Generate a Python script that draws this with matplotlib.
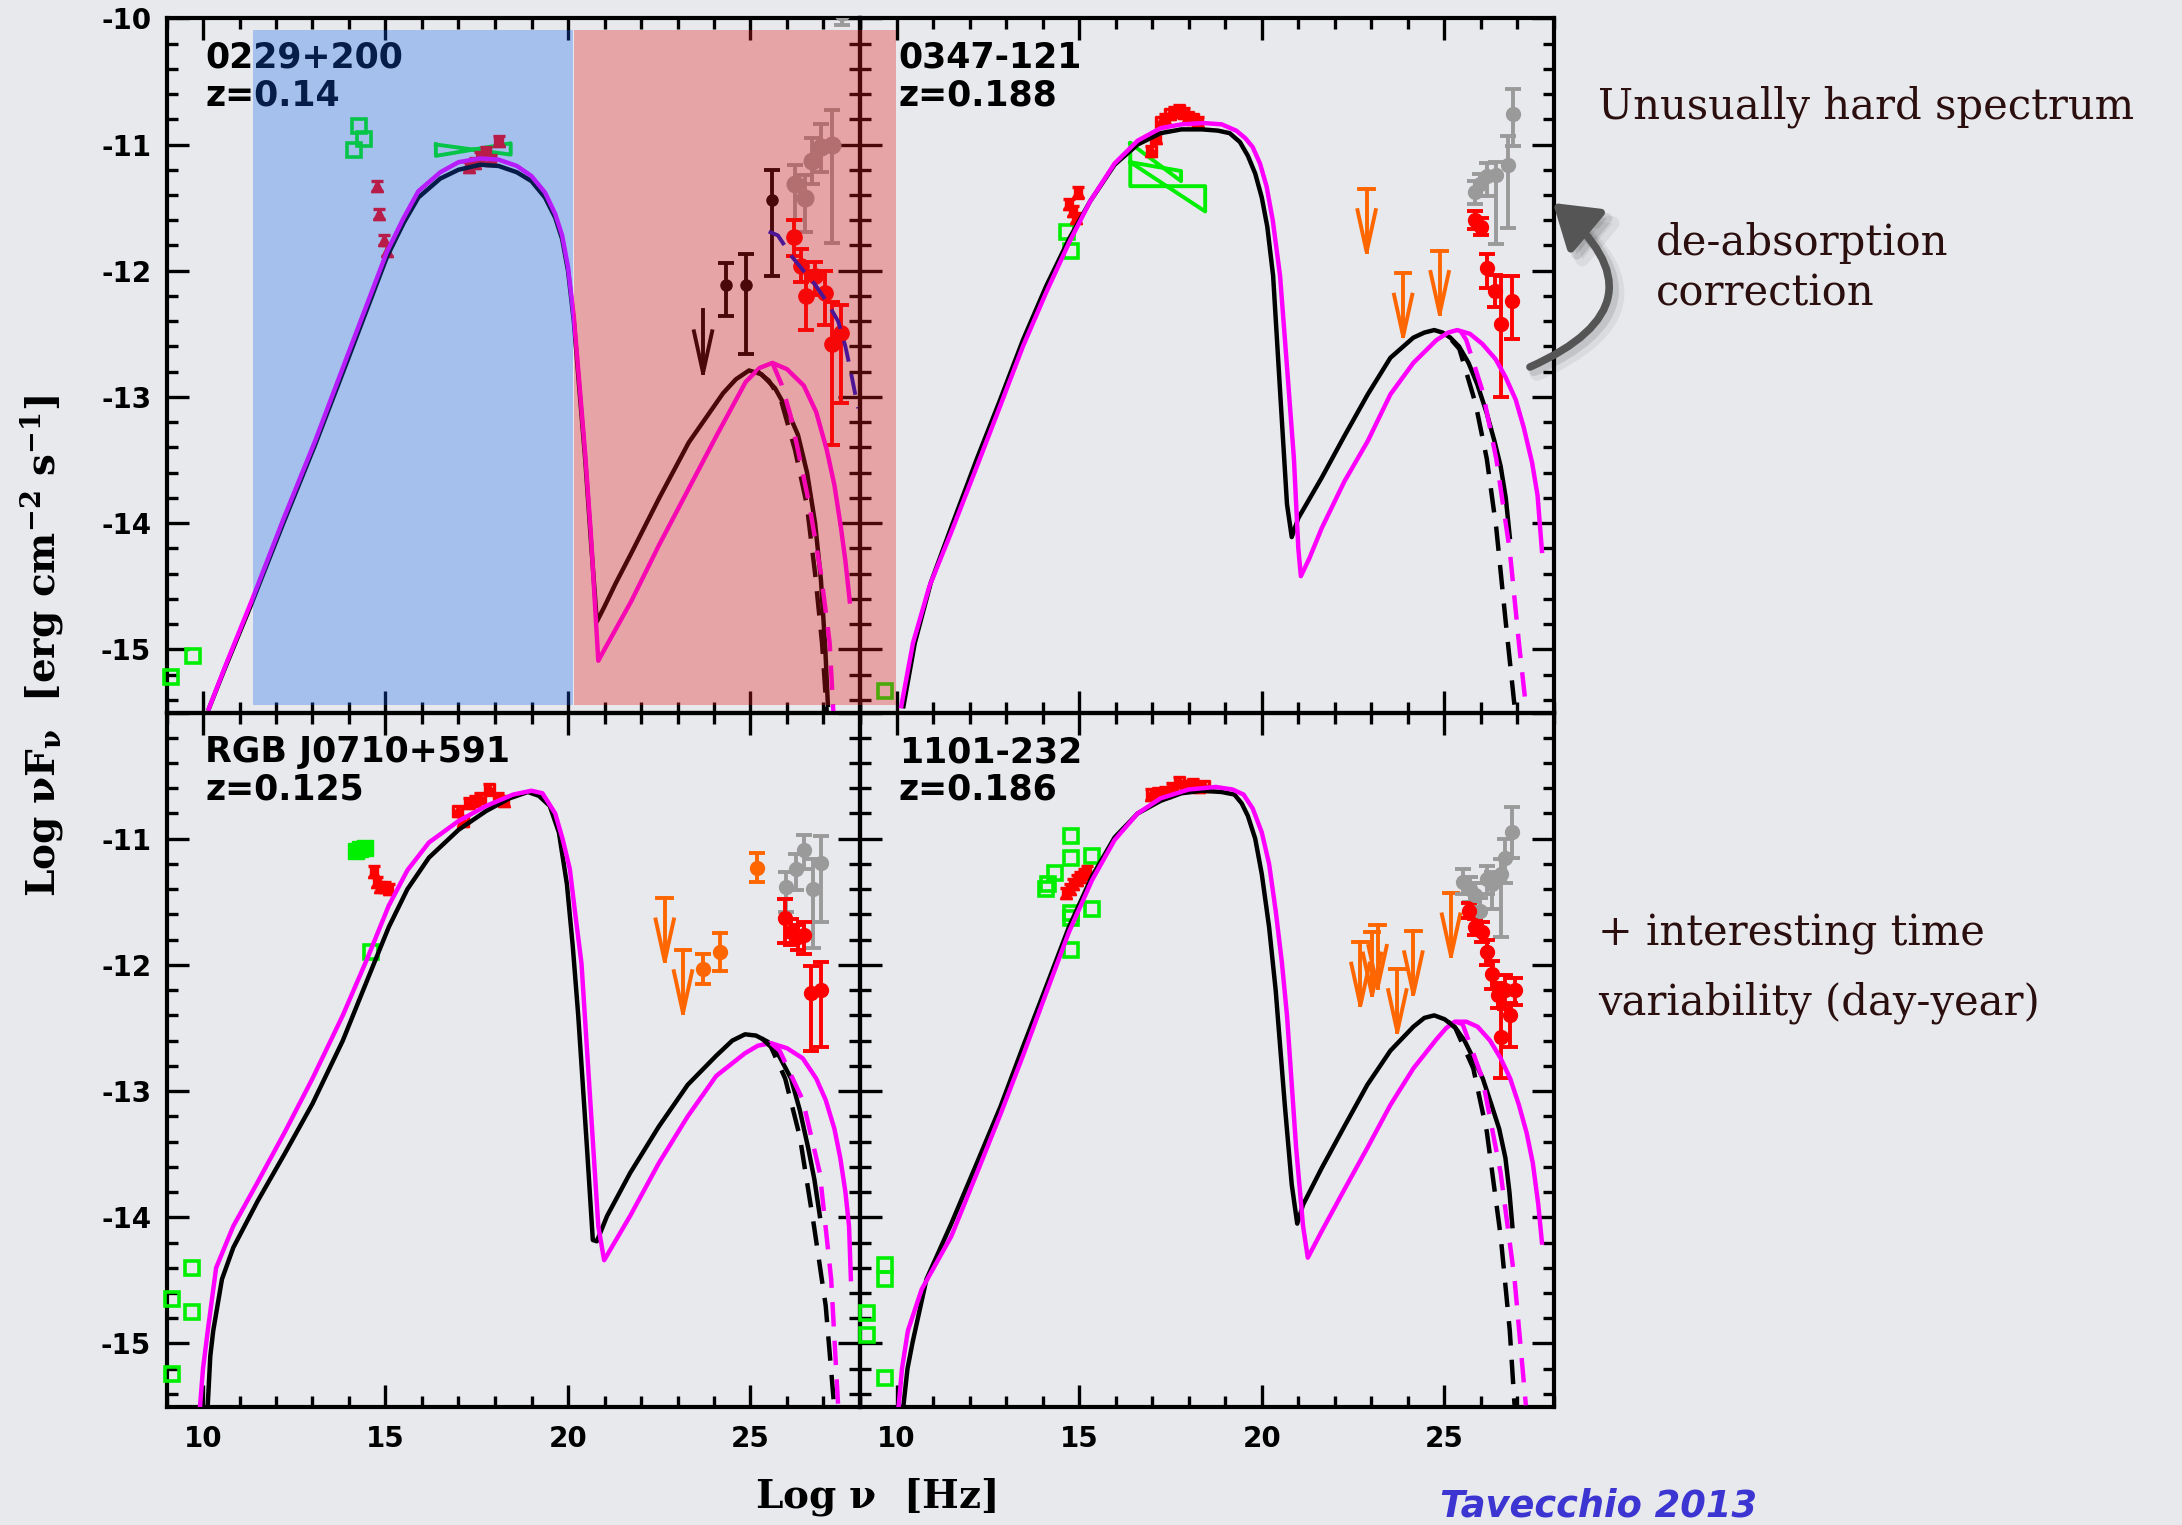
import matplotlib
matplotlib.use('Agg')
import matplotlib.pyplot as plt
from matplotlib.patches import Rectangle, FancyArrowPatch, ArrowStyle
from matplotlib.ticker import MultipleLocator

plt.rcParams['axes.unicode_minus'] = False
plt.rcParams['mathtext.fontset'] = 'dejavuserif'
plt.rcParams['mathtext.default'] = 'bf'

BG = '#e7e9ed'
GREEN = '#00ee00'
RED = '#ff0000'
ORANGE = '#ff6600'
GRAY = '#9a9a9a'
MAGENTA = '#ff00ff'

# ---------------- 0229+200 ----------------
p1_ssc_x = [10.16, 10.6, 11.34, 12.2, 13.07, 14.0, 15.04, 15.5, 15.9, 16.5, 17.0, 17.6, 18.1, 18.6, 19.0,
            19.37, 19.65, 19.84, 20.0, 20.16, 20.3, 20.47, 20.63, 20.79, 21.0, 21.3, 21.73, 22.5, 23.31,
            24.25, 24.6, 24.96, 25.3, 25.67, 26.0, 26.3, 26.55, 26.77, 26.93, 27.05, 27.12]
p1_ssc_y = [-15.47, -15.15, -14.63, -14.0, -13.38, -12.68, -11.89, -11.62, -11.42, -11.27, -11.2, -11.16,
            -11.17, -11.22, -11.29, -11.42, -11.58, -11.75, -12.0, -12.4, -12.9, -13.49, -14.15, -14.78,
            -14.66, -14.48, -14.24, -13.8, -13.36, -12.97, -12.86, -12.79, -12.82, -12.93, -13.1, -13.3,
            -13.6, -14.0, -14.45, -15.0, -15.44]
p1_mod_x = [10.16, 10.6, 11.34, 12.2, 13.07, 14.0, 15.04, 15.5, 15.9, 16.5, 17.0, 17.6, 18.1, 18.6, 19.0,
            19.37, 19.65, 19.84, 20.0, 20.16, 20.3, 20.47, 20.63, 20.75, 20.83, 21.0, 21.73, 22.5, 23.3,
            24.1, 24.87, 25.25, 25.6, 26.0, 26.46, 26.8, 27.09, 27.3, 27.48, 27.6, 27.72]
p1_mod_y = [-15.47, -15.14, -14.61, -13.97, -13.35, -12.64, -11.85, -11.58, -11.37, -11.22, -11.14, -11.11,
            -11.12, -11.17, -11.25, -11.38, -11.55, -11.72, -11.97, -12.37, -12.85, -13.45, -14.1, -14.7,
            -15.09, -15.0, -14.62, -14.17, -13.73, -13.29, -12.88, -12.77, -12.73, -12.78, -12.91, -13.12,
            -13.42, -13.7, -14.04, -14.3, -14.62]
p1_ssc_abs_x = [25.2, 25.5, 25.83, 26.22, 26.54, 26.77, 26.96, 27.09]
p1_ssc_abs_y = [-12.8, -12.87, -13.02, -13.42, -13.85, -14.4, -14.95, -15.5]
p1_mod_abs_x = [25.6, 25.85, 26.1, 26.3, 26.61, 26.93, 27.17, 27.27]
p1_mod_abs_y = [-12.73, -12.9, -13.15, -13.42, -13.85, -14.4, -14.95, -15.5]
p1_fit_x = [25.5, 25.75, 26.14, 26.45, 26.77, 27.1, 27.4, 27.6, 27.72, 27.85, 27.95]
p1_fit_y = [-11.69, -11.72, -11.89, -12.0, -12.11, -12.25, -12.4, -12.6, -12.76, -12.95, -13.09]
p1_sq_x = [9.13, 9.72, 14.28, 14.4, 14.14]
p1_sq_y = [-15.22, -15.05, -10.85, -10.96, -11.04]
p1_bow = [(16.38, -11.0, -11.09, 18.43, -11.08, -10.99)]
p1_opt_x = [14.76, 14.83, 14.96, 15.04]
p1_opt_y = [-11.33, -11.55, -11.76, -11.84]
p1_xr_x = [17.3, 17.45, 17.6, 17.75, 17.9, 18.1]
p1_xr_y = [-11.18, -11.15, -11.1, -11.06, -11.12, -10.97]
p1_lat_x = [24.33, 24.88, 25.59]
p1_lat_y = [-12.11, -12.11, -11.44]
p1_lat_lo = [0.25, 0.55, 0.6]
p1_lat_hi = [0.17, 0.24, 0.24]
p1_ul_x = [23.7]
p1_ul_y = [-12.31]
p1_obs_x = [26.22, 26.5, 26.69, 26.93, 27.24, 27.5]
p1_obs_y = [-11.31, -11.42, -11.13, -11.02, -11.0, -9.95]
p1_obs_lo = [0.29, 0.27, 0.18, 0.2, 0.78, 0.1]
p1_obs_hi = [0.15, 0.18, 0.18, 0.18, 0.27, 0.1]
p1_deab_x = [26.19, 26.38, 26.53, 26.77, 27.04, 27.24, 27.48]
p1_deab_y = [-11.73, -11.96, -12.2, -12.04, -12.18, -12.58, -12.49]
p1_deab_lo = [0.15, 0.13, 0.27, 0.15, 0.25, 0.8, 0.56]
p1_deab_hi = [0.13, 0.13, 0.2, 0.11, 0.18, 0.33, 0.22]

# ---------------- 0347-121 ----------------
p2_ssc_x = [10.19, 10.5, 10.94, 11.5, 12.2, 12.8, 13.46, 14.1, 14.72, 15.3, 15.97, 16.6, 17.23, 17.8, 18.36,
            18.8, 19.12, 19.4, 19.62, 19.82, 20.0, 20.15, 20.31, 20.5, 20.69, 20.82, 21.0, 21.64, 22.26,
            22.9, 23.52, 24.15, 24.45, 24.72, 24.95, 25.16, 25.4, 25.66, 25.9, 26.16, 26.37, 26.54, 26.68,
            26.79]
p2_ssc_y = [-15.45, -14.95, -14.47, -14.03, -13.49, -13.05, -12.55, -12.12, -11.75, -11.45, -11.16, -11.0,
            -10.91, -10.88, -10.88, -10.89, -10.91, -10.98, -11.09, -11.23, -11.42, -11.65, -12.04, -12.95,
            -13.85, -14.11, -13.96, -13.64, -13.31, -12.98, -12.69, -12.53, -12.49, -12.47, -12.49, -12.53,
            -12.6, -12.73, -12.9, -13.13, -13.35, -13.55, -13.8, -14.11]
p2_mod_x = [10.13, 10.45, 10.9, 11.5, 12.2, 12.8, 13.46, 14.1, 14.72, 15.3, 15.97, 16.6, 17.23, 17.8, 18.4,
            18.9, 19.3, 19.55, 19.75, 19.95, 20.13, 20.3, 20.5, 20.69, 20.88, 21.0, 21.07, 21.3, 21.64,
            22.26, 22.9, 23.52, 24.15, 24.78, 25.1, 25.35, 25.7, 26.04, 26.4, 26.67, 26.95, 27.17, 27.4,
            27.55, 27.67]
p2_mod_y = [-15.45, -14.95, -14.5, -14.07, -13.55, -13.1, -12.6, -12.17, -11.78, -11.45, -11.15, -10.97,
            -10.87, -10.84, -10.83, -10.84, -10.89, -10.95, -11.02, -11.15, -11.33, -11.6, -12.04, -12.76,
            -13.49, -14.2, -14.42, -14.28, -14.04, -13.67, -13.35, -12.98, -12.73, -12.55, -12.49, -12.47,
            -12.5, -12.58, -12.7, -12.84, -13.02, -13.24, -13.52, -13.78, -14.22]
p2_ssc_abs_x = [25.2, 25.41, 25.85, 26.16, 26.42, 26.67, 26.92]
p2_ssc_abs_y = [-12.55, -12.62, -13.05, -13.49, -14.04, -14.76, -15.45]
p2_mod_abs_x = [25.45, 25.6, 26.04, 26.42, 26.79, 27.04, 27.23]
p2_mod_abs_y = [-12.48, -12.55, -12.95, -13.49, -14.22, -14.95, -15.45]
p2_sq_x = [14.68, 14.78, 9.69]
p2_sq_y = [-11.69, -11.84, -15.33]
p2_bow = [(16.40, -10.99, -11.14, 17.79, -11.29, -11.21),
          (16.40, -11.14, -11.33, 18.45, -11.53, -11.33)]
p2_opt_x = [14.72, 14.84, 14.9, 14.97]
p2_opt_y = [-11.47, -11.53, -11.58, -11.38]
p2_xr_x = [16.98, 17.1, 17.23, 17.35, 17.48, 17.6, 17.74, 17.87, 17.99, 18.12, 18.24]
p2_xr_y = [-11.05, -10.95, -10.82, -10.8, -10.76, -10.74, -10.73, -10.75, -10.78, -10.8, -10.82]
p2_ul_x = [22.87, 23.87, 24.87]
p2_ul_y = [-11.35, -12.02, -11.84]
p2_obs_x = [25.85, 25.97, 26.16, 26.42, 26.73, 26.89]
p2_obs_y = [-11.38, -11.31, -11.25, -11.24, -11.16, -10.76]
p2_obs_lo = [0.09, 0.1, 0.16, 0.55, 0.5, 0.25]
p2_obs_hi = [0.09, 0.08, 0.1, 0.1, 0.23, 0.2]
p2_deab_x = [25.85, 26.0, 26.16, 26.38, 26.54, 26.86]
p2_deab_y = [-11.6, -11.65, -11.98, -12.16, -12.42, -12.24]
p2_deab_lo = [0.07, 0.07, 0.16, 0.13, 0.58, 0.3]
p2_deab_hi = [0.07, 0.07, 0.11, 0.13, 0.38, 0.2]

# ---------------- RGB J0710+591 ----------------
p3_ssc_x = [10.13, 10.2, 10.28, 10.52, 10.83, 11.5, 12.25, 13.0, 13.83, 14.5, 15.09, 15.6, 16.19, 17.0,
            17.76, 18.4, 18.9, 19.2, 19.5, 19.75, 19.97, 20.13, 20.28, 20.52, 20.68, 20.79, 21.07, 21.7,
            22.49, 23.28, 24.06, 24.5, 24.85, 25.15, 25.48, 25.8, 26.11, 26.35, 26.58, 26.75, 26.9]
p3_ssc_y = [-15.49, -15.1, -14.9, -14.49, -14.24, -13.87, -13.49, -13.1, -12.6, -12.12, -11.7, -11.4,
            -11.15, -10.93, -10.78, -10.68, -10.63, -10.66, -10.74, -10.95, -11.36, -11.85, -12.4, -13.45,
            -14.18, -14.19, -13.99, -13.65, -13.28, -12.95, -12.72, -12.6, -12.55, -12.56, -12.61, -12.73,
            -12.9, -13.15, -13.45, -13.7, -13.99]
p3_mod_x = [9.92, 10.0, 10.13, 10.36, 10.83, 11.5, 12.25, 13.0, 13.83, 14.5, 15.09, 15.6, 16.19, 17.0,
            17.76, 18.5, 19.0, 19.3, 19.65, 19.85, 20.05, 20.2, 20.37, 20.6, 20.83, 20.99, 21.7, 22.49,
            23.28, 24.06, 24.85, 25.2, 25.56, 26.0, 26.43, 26.8, 27.06, 27.3, 27.46, 27.6, 27.7, 27.75]
p3_mod_y = [-15.49, -15.2, -14.9, -14.4, -14.07, -13.72, -13.32, -12.9, -12.4, -11.95, -11.53, -11.25,
            -11.03, -10.86, -10.74, -10.65, -10.62, -10.64, -10.8, -11.0, -11.24, -11.6, -11.99, -13.03,
            -14.07, -14.34, -13.99, -13.57, -13.2, -12.88, -12.7, -12.64, -12.62, -12.66, -12.74, -12.9,
            -13.07, -13.3, -13.53, -13.8, -14.07, -14.49]
p3_ssc_abs_x = [25.3, 25.56, 25.95, 26.35, 26.74, 27.06, 27.29]
p3_ssc_abs_y = [-12.58, -12.65, -12.9, -13.36, -14.07, -14.7, -15.49]
p3_mod_abs_x = [25.56, 25.8, 26.43, 26.9, 27.21, 27.4]
p3_mod_abs_y = [-12.62, -12.68, -13.07, -13.65, -14.49, -15.49]
p3_fill_x = [14.2, 14.3, 14.45]
p3_fill_y = [-11.1, -11.08, -11.07]
p3_sq_x = [14.61, 9.15, 9.69, 9.69, 9.15]
p3_sq_y = [-11.9, -14.65, -14.4, -14.75, -15.24]
p3_opt_x = [14.69, 14.77, 14.85, 15.0, 15.09]
p3_opt_y = [-11.26, -11.34, -11.38, -11.38, -11.4]
p3_xr_x = [16.98, 17.13, 17.29, 17.45, 17.6, 17.84, 18.08, 18.24]
p3_xr_y = [-10.78, -10.86, -10.72, -10.7, -10.68, -10.61, -10.68, -10.7]
p3_ul_x = [22.65, 23.15]
p3_ul_y = [-11.47, -11.88]
p3_lat_x = [23.7, 24.17, 25.17]
p3_lat_y = [-12.03, -11.9, -11.23]
p3_lat_lo = [0.12, 0.15, 0.11]
p3_lat_hi = [0.12, 0.15, 0.12]
p3_obs_x = [25.98, 26.24, 26.47, 26.71, 26.94]
p3_obs_y = [-11.38, -11.24, -11.09, -11.4, -11.19]
p3_obs_lo = [0.2, 0.17, 0.15, 0.47, 0.47]
p3_obs_hi = [0.12, 0.12, 0.12, 0.24, 0.21]
p3_deab_x = [25.95, 26.11, 26.3, 26.47, 26.66, 26.93]
p3_deab_y = [-11.63, -11.74, -11.78, -11.76, -12.22, -12.2]
p3_deab_lo = [0.2, 0.1, 0.1, 0.15, 0.46, 0.45]
p3_deab_hi = [0.15, 0.1, 0.1, 0.1, 0.21, 0.22]

# ---------------- 1101-232 ----------------
p4_ssc_x = [10.19, 10.3, 10.44, 10.82, 11.5, 12.2, 12.85, 13.46, 14.1, 14.72, 15.35, 15.97, 16.6, 17.23,
            17.8, 18.36, 18.9, 19.25, 19.45, 19.62, 19.82, 20.0, 20.2, 20.38, 20.63, 20.82, 20.97, 21.13,
            21.64, 22.26, 22.89, 23.52, 24.15, 24.45, 24.72, 25.0, 25.28, 25.55, 25.79, 26.05, 26.29, 26.5,
            26.67, 26.78, 26.86]
p4_ssc_y = [-15.49, -15.2, -14.99, -14.49, -14.05, -13.57, -13.12, -12.65, -12.17, -11.7, -11.3, -10.99,
            -10.8, -10.7, -10.64, -10.62, -10.63, -10.65, -10.72, -10.82, -11.0, -11.28, -11.7, -12.2,
            -13.11, -13.74, -14.05, -13.9, -13.61, -13.28, -12.95, -12.68, -12.49, -12.42, -12.4, -12.43,
            -12.49, -12.6, -12.74, -12.9, -13.11, -13.3, -13.53, -13.8, -14.07]
p4_mod_x = [10.06, 10.15, 10.31, 10.69, 11.5, 12.2, 12.85, 13.46, 14.1, 14.72, 15.35, 15.97, 16.6, 17.23,
            18.0, 18.74, 19.2, 19.5, 19.75, 20.0, 20.2, 20.38, 20.55, 20.69, 20.94, 21.13, 21.26, 21.64,
            22.26, 22.89, 23.52, 24.15, 24.78, 25.05, 25.28, 25.6, 25.91, 26.25, 26.54, 26.8, 27.04, 27.25,
            27.42, 27.57, 27.67]
p4_mod_y = [-15.49, -15.2, -14.9, -14.57, -14.15, -13.65, -13.18, -12.72, -12.22, -11.74, -11.33, -11.01,
            -10.8, -10.68, -10.61, -10.59, -10.61, -10.65, -10.76, -10.95, -11.2, -11.57, -11.98, -12.4,
            -13.45, -14.07, -14.32, -14.11, -13.78, -13.45, -13.11, -12.82, -12.59, -12.5, -12.45, -12.45,
            -12.49, -12.6, -12.74, -12.9, -13.11, -13.33, -13.57, -13.9, -14.2]
p4_ssc_abs_x = [25.1, 25.3, 25.79, 26.16, 26.54, 26.79, 26.92]
p4_ssc_abs_y = [-12.45, -12.5, -12.82, -13.32, -14.15, -14.9, -15.49]
p4_mod_abs_x = [25.3, 25.5, 26.04, 26.54, 26.92, 27.23]
p4_mod_abs_y = [-12.45, -12.47, -12.9, -13.65, -14.49, -15.49]
p4_sq_x = [14.78, 14.78, 15.35, 14.34, 14.15, 14.09, 14.78, 14.78, 15.35, 14.78, 9.69, 9.69, 9.18, 9.18, 9.69]
p4_sq_y = [-10.98, -11.15, -11.14, -11.27, -11.36, -11.4, -11.59, -11.63, -11.56, -11.88, -14.38, -14.49,
           -14.76, -14.93, -15.27]
p4_opt_x = [14.65, 14.75, 14.84, 14.93, 15.03, 15.12, 15.22]
p4_opt_y = [-11.43, -11.4, -11.36, -11.33, -11.3, -11.28, -11.26]
p4_xr_x = [16.98, 17.15, 17.36, 17.55, 17.74, 17.92, 18.11, 18.27, 18.43]
p4_xr_y = [-10.65, -10.64, -10.63, -10.6, -10.55, -10.58, -10.57, -10.59, -10.58]
p4_ul_x = [22.7, 23.02, 23.17, 23.71, 24.15, 25.18]
p4_ul_y = [-11.82, -11.74, -11.68, -12.03, -11.73, -11.43]
p4_obs_x = [25.5, 25.7, 25.85, 25.98, 26.16, 26.3, 26.54, 26.67, 26.86]
p4_obs_y = [-11.34, -11.4, -11.45, -11.57, -11.32, -11.36, -11.28, -11.15, -10.95]
p4_obs_lo = [0.1, 0.1, 0.15, 0.15, 0.12, 0.2, 0.5, 0.2, 0.2]
p4_obs_hi = [0.1, 0.1, 0.1, 0.1, 0.1, 0.1, 0.12, 0.15, 0.2]
p4_deab_x = [25.66, 25.85, 26.04, 26.16, 26.29, 26.48, 26.54, 26.67, 26.79, 26.92]
p4_deab_y = [-11.57, -11.7, -11.74, -11.9, -12.07, -12.24, -12.57, -12.2, -12.4, -12.2]
p4_deab_lo = [0.06, 0.06, 0.08, 0.1, 0.12, 0.1, 0.33, 0.15, 0.25, 0.12]
p4_deab_hi = [0.06, 0.06, 0.08, 0.1, 0.1, 0.1, 0.4, 0.12, 0.1, 0.1]

names = ['0229+200', '0347-121', 'RGB J0710+591', '1101-232']
redshifts = ['z=0.14', 'z=0.188', 'z=0.125', 'z=0.186']


def upper_limits(ax, xs, ys, color, cap=True):
    for x, y in zip(xs, ys):
        tip = y - 0.5
        ax.plot([x, x], [y, tip], color=color, lw=2.8, zorder=3)
        if cap:
            ax.plot([x - 0.2, x + 0.2], [y, y], color=color, lw=2.8, zorder=3)
        ax.plot([x - 0.25, x, x + 0.25], [tip + 0.33, tip, tip + 0.33], color=color, lw=2.8, zorder=3)


def points(ax, x, y, lo, hi, color, ms=10):
    ax.errorbar(x, y, yerr=[lo, hi], fmt='o', color=color, ms=ms, elinewidth=2.8,
                capsize=6, capthick=2.8, zorder=3)


def squares(ax, x, y):
    ax.plot(x, y, 's', mfc='none', mec=GREEN, mew=2.6, ms=10, zorder=3, clip_on=False)


def bowties(ax, bows):
    # each entry: left x, two left y's, right x, two right y's (edges cross in the middle)
    for xl, yl1, yl2, xr, yr1, yr2 in bows:
        ax.plot([xl, xr, xr, xl, xl], [yl1, yr1, yr2, yl2, yl1], color=GREEN, lw=2.8, zorder=3)


def triangles(ax, x, y, xerr=0.0):
    ax.errorbar(x, y, yerr=0.04, xerr=xerr, fmt='^', color=RED, ms=9, elinewidth=2.4,
                capsize=4, capthick=2.4, zorder=3)


def models(ax, sx, sy, mx, my, sax, say, max_, may):
    ax.plot(sx, sy, color='k', lw=3.2, zorder=4)
    ax.plot(mx, my, color=MAGENTA, lw=3.2, zorder=4)
    ax.plot(sax, say, color='k', lw=3.2, ls=(0, (5.5, 3.2)), zorder=4)
    ax.plot(max_, may, color=MAGENTA, lw=3.2, ls=(0, (5.5, 3.2)), zorder=4)


fig = plt.figure(figsize=(21.82, 15.25), dpi=100, facecolor=BG)
W, H = 2182.0, 1525.0
cols = [166.5, 860.0, 1554.0]
rows = [18.3, 712.5, 1406.6]

axs = []
for r in range(2):
    for c in range(2):
        ax = fig.add_axes([cols[c] / W, 1 - rows[r + 1] / H,
                           (cols[c + 1] - cols[c]) / W, (rows[r + 1] - rows[r]) / H])
        ax.set_facecolor('none')
        ax.set_xlim(9, 28)
        ax.set_ylim(-15.5, -10)
        ax.xaxis.set_major_locator(MultipleLocator(5))
        ax.xaxis.set_minor_locator(MultipleLocator(1))
        ax.yaxis.set_major_locator(MultipleLocator(1))
        ax.yaxis.set_minor_locator(MultipleLocator(0.2))
        ax.tick_params(which='both', direction='in', top=True, right=True, width=2.4,
                       labelsize=20, colors='k')
        ax.tick_params(which='major', length=16)
        ax.tick_params(which='minor', length=8)
        ax.tick_params(axis='y', pad=11)
        ax.tick_params(axis='x', pad=13)
        for s in ax.spines.values():
            s.set_linewidth(3)
        ax.set_yticks([-15, -14, -13, -12, -11, -10])
        if c == 0:
            labs = ['-15', '-14', '-13', '-12', '-11', '-10' if r == 0 else '']
            ax.set_yticklabels(labs, fontweight='bold')
        else:
            ax.set_yticklabels([])
        ax.set_xticks([10, 15, 20, 25])
        if r == 1:
            ax.set_xticklabels(['10', '15', '20', '25'], fontweight='bold')
        else:
            ax.set_xticklabels([])
        ax.text(0.056, 0.943, names[2 * r + c], transform=ax.transAxes, fontsize=25,
                fontweight='bold', va='center', ha='left', zorder=6)
        ax.text(0.056, 0.889, redshifts[2 * r + c], transform=ax.transAxes, fontsize=25,
                fontweight='bold', va='center', ha='left', zorder=6)
        axs.append(ax)

# 0229+200
ax = axs[0]
squares(ax, p1_sq_x, p1_sq_y)
bowties(ax, p1_bow)
triangles(ax, p1_opt_x, p1_opt_y)
triangles(ax, p1_xr_x, p1_xr_y, xerr=0.1)
points(ax, p1_lat_x, p1_lat_y, p1_lat_lo, p1_lat_hi, 'k', ms=8)
upper_limits(ax, p1_ul_x, p1_ul_y, 'k', cap=False)
points(ax, p1_obs_x, p1_obs_y, p1_obs_lo, p1_obs_hi, GRAY, ms=12)
points(ax, p1_deab_x, p1_deab_y, p1_deab_lo, p1_deab_hi, RED, ms=11)
models(ax, p1_ssc_x, p1_ssc_y, p1_mod_x, p1_mod_y, p1_ssc_abs_x, p1_ssc_abs_y, p1_mod_abs_x, p1_mod_abs_y)
ax.plot(p1_fit_x, p1_fit_y, color='#0014d2', lw=2.8, ls=(0, (5.5, 3.2)), zorder=4)

# 0347-121
ax = axs[1]
squares(ax, p2_sq_x, p2_sq_y)
bowties(ax, p2_bow)
triangles(ax, p2_opt_x, p2_opt_y, xerr=0.08)
triangles(ax, p2_xr_x, p2_xr_y, xerr=0.12)
upper_limits(ax, p2_ul_x, p2_ul_y, ORANGE)
points(ax, p2_obs_x, p2_obs_y, p2_obs_lo, p2_obs_hi, GRAY)
points(ax, p2_deab_x, p2_deab_y, p2_deab_lo, p2_deab_hi, RED)
models(ax, p2_ssc_x, p2_ssc_y, p2_mod_x, p2_mod_y, p2_ssc_abs_x, p2_ssc_abs_y, p2_mod_abs_x, p2_mod_abs_y)

# RGB J0710+591
ax = axs[2]
ax.plot(p3_fill_x, p3_fill_y, 's', color=GREEN, ms=11, zorder=3)
squares(ax, p3_sq_x, p3_sq_y)
triangles(ax, p3_opt_x, p3_opt_y, xerr=0.08)
triangles(ax, p3_xr_x, p3_xr_y, xerr=0.12)
upper_limits(ax, p3_ul_x, p3_ul_y, ORANGE)
points(ax, p3_lat_x, p3_lat_y, p3_lat_lo, p3_lat_hi, ORANGE)
points(ax, p3_obs_x, p3_obs_y, p3_obs_lo, p3_obs_hi, GRAY)
points(ax, p3_deab_x, p3_deab_y, p3_deab_lo, p3_deab_hi, RED)
models(ax, p3_ssc_x, p3_ssc_y, p3_mod_x, p3_mod_y, p3_ssc_abs_x, p3_ssc_abs_y, p3_mod_abs_x, p3_mod_abs_y)

# 1101-232
ax = axs[3]
squares(ax, p4_sq_x, p4_sq_y)
triangles(ax, p4_opt_x, p4_opt_y, xerr=0.08)
triangles(ax, p4_xr_x, p4_xr_y, xerr=0.12)
upper_limits(ax, p4_ul_x, p4_ul_y, ORANGE)
points(ax, p4_obs_x, p4_obs_y, p4_obs_lo, p4_obs_hi, GRAY)
points(ax, p4_deab_x, p4_deab_y, p4_deab_lo, p4_deab_hi, RED)
models(ax, p4_ssc_x, p4_ssc_y, p4_mod_x, p4_mod_y, p4_ssc_abs_x, p4_ssc_abs_y, p4_mod_abs_x, p4_mod_abs_y)

# shaded bands (synchrotron / inverse Compton) laid over the first panel
fig.patches.append(Rectangle((253 / W, 1 - 705 / H), 320 / W, 675 / H, transform=fig.transFigure,
                             facecolor=(0.07, 0.39, 0.94), alpha=0.3, edgecolor='none', zorder=5))
fig.patches.append(Rectangle((574 / W, 1 - 705 / H), 322 / W, 675 / H, transform=fig.transFigure,
                             facecolor=(0.9, 0.1, 0.1), alpha=0.33, edgecolor='none', zorder=5))

# axis titles
fig.text(42 / W, 1 - 646 / H, r'Log $\nu$F$_{\nu}$  [erg cm$^{-2}$ s$^{-1}$]', rotation=90,
         fontsize=28, fontweight='bold', family='DejaVu Serif', ha='center', va='center')
fig.text(875 / W, 1 - 1497 / H, r'Log $\nu$  [Hz]', fontsize=28, fontweight='bold',
         family='DejaVu Serif', ha='center', va='center')

# curved arrow with a soft drop shadow underneath
tail, tip = (1530, 367), (1553, 203)
for dx, dy, lw, col, alpha, z in [(7, 7, 10, 'k', 0.06, 9), (4, 4, 7.5, 'k', 0.10, 9),
                                  (0, 0, 5.5, '#555555', 1.0, 10)]:
    fig.patches.append(FancyArrowPatch(((tail[0] + dx) / W, 1 - (tail[1] + dy) / H),
                                       ((tip[0] + dx) / W, 1 - (tip[1] + dy) / H),
                                       transform=fig.transFigure, connectionstyle='arc3,rad=0.8',
                                       arrowstyle=ArrowStyle('-|>', head_length=26, head_width=17),
                                       lw=lw, color=col, alpha=alpha, shrinkA=0, shrinkB=0, zorder=z))

tc = '#2b0f0f'
fs = 30
fig.text(1598 / W, 1 - 107 / H, 'Unusually hard spectrum', fontsize=fs, family='DejaVu Serif',
         color=tc, va='center', ha='left')
fig.text(1656 / W, 1 - 243 / H, 'de-absorption', fontsize=fs, family='DejaVu Serif',
         color=tc, va='center', ha='left')
fig.text(1656 / W, 1 - 294 / H, 'correction', fontsize=fs, family='DejaVu Serif',
         color=tc, va='center', ha='left')
fig.text(1598 / W, 1 - 934 / H, '+ interesting time', fontsize=fs, family='DejaVu Serif',
         color=tc, va='center', ha='left')
fig.text(1598 / W, 1 - 1003 / H, 'variability (day-year)', fontsize=fs, family='DejaVu Serif',
         color=tc, va='center', ha='left')
fig.text(1599 / W, 1 - 1506 / H, 'Tavecchio 2013', fontsize=26.5, fontweight='bold', style='italic',
         family='DejaVu Sans', color='#3c35d2', va='center', ha='center')

fig.savefig('out.png', dpi=100, facecolor=BG)
